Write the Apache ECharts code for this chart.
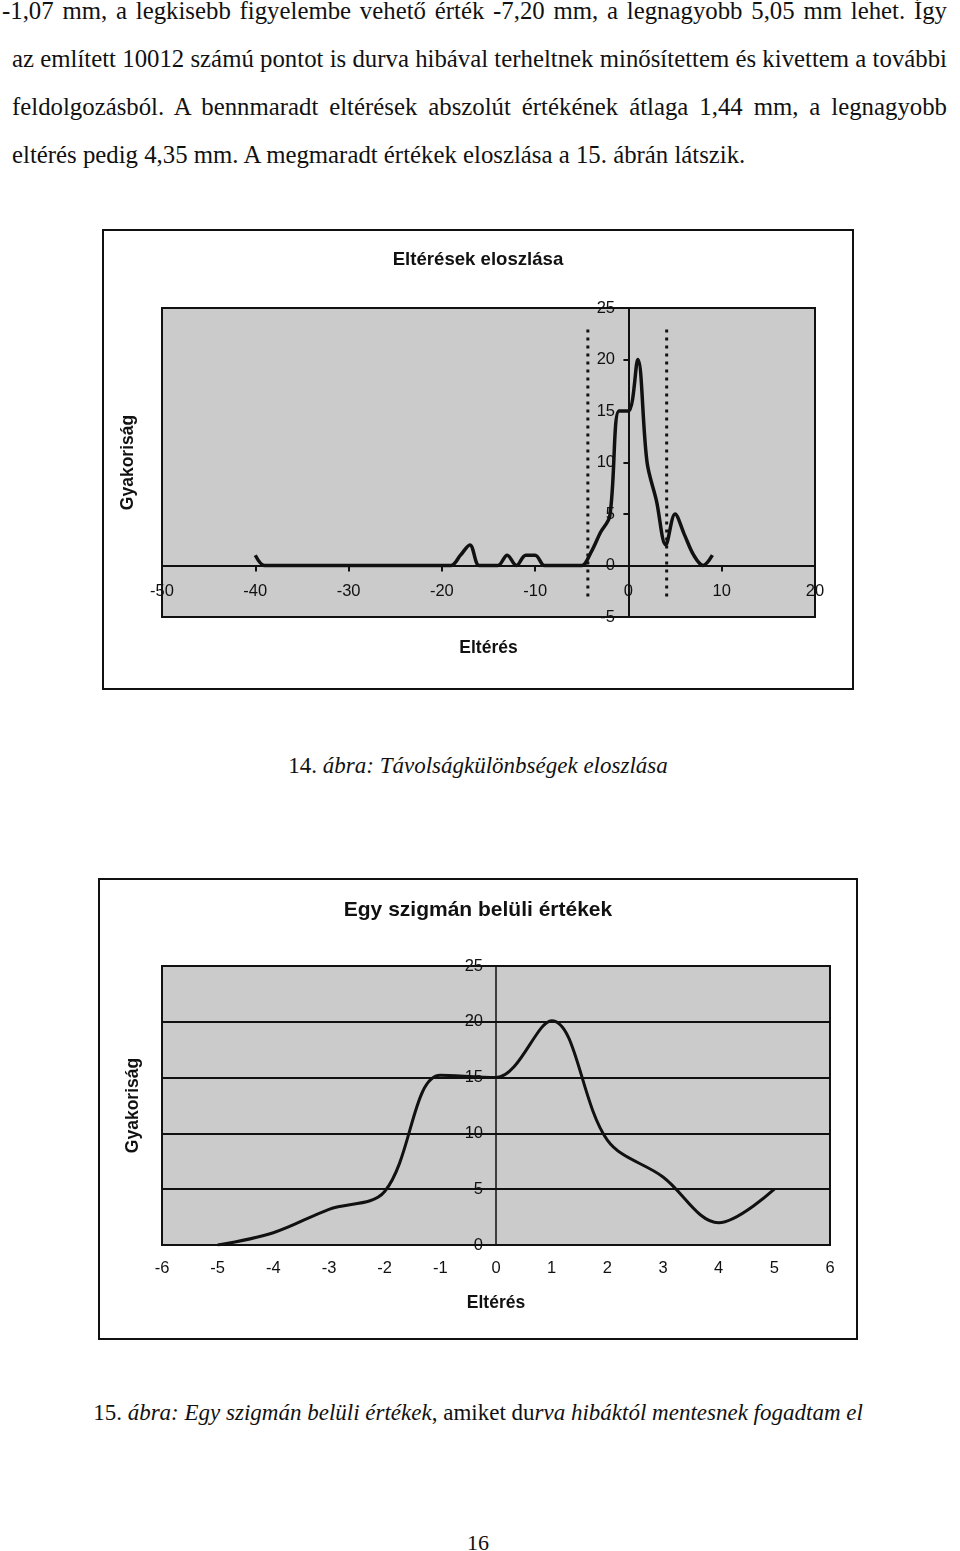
<!DOCTYPE html>
<html><head><meta charset="utf-8">
<script src="https://cdn.jsdelivr.net/npm/echarts@6/dist/echarts.min.js"></script>
<style>
html,body{margin:0;padding:0;background:#fff;}
body{width:960px;height:1551px;position:relative;overflow:hidden;font-family:"Liberation Serif","Times New Roman",serif;color:#111;}
.ln{position:absolute;left:12px;width:935px;font-size:24.8px;line-height:24px;white-space:nowrap;}
.j{text-align:justify;text-align-last:justify;white-space:normal;}
.cap{position:absolute;left:0;width:956px;text-align:center;font-size:23px;line-height:24px;white-space:nowrap;}
#c1{position:absolute;left:102px;top:229px;width:752px;height:461px;}
#c2{position:absolute;left:98px;top:878px;width:760px;height:462px;}
</style></head><body>
<div class="ln j" style="top:-1px;left:2px;width:945px">-1,07 mm, a legkisebb figyelembe vehető érték -7,20 mm, a legnagyobb 5,05 mm lehet. Így</div>
<div class="ln j" style="top:47px">az említett 10012 számú pontot is durva hibával terheltnek minősítettem és kivettem a további</div>
<div class="ln j" style="top:95px">feldolgozásból. A bennmaradt eltérések abszolút értékének átlaga 1,44 mm, a legnagyobb</div>
<div class="ln" style="top:143px">eltérés pedig 4,35 mm. A megmaradt értékek eloszlása a 15. ábrán látszik.</div>
<div id="c1"></div>
<div class="cap" style="top:754px">14. <i>ábra: Távolságkülönbségek eloszlása</i></div>
<div id="c2"></div>
<div class="cap" style="top:1401px">15. <i>ábra: Egy szigmán belüli értékek</i>, amiket du<i>rva hibáktól mentesnek fogadtam el</i></div>
<div class="cap" style="top:1531px;font-size:22px">16</div>
<script>
// ---- Chart 1: Eltérések eloszlása ----
const bins1 = [-40,-39,-38,-37,-36,-35,-34,-33,-32,-31,-30,-29,-28,-27,-26,-25,-24,-23,-22,-21,-20,-19,-18,-17,-16,-15,-14,-13,-12,-11,-10,-9,-8,-7,-6,-5,-4,-3,-2,-1,0,1,2,3,4,5,6,7,8,9];
const freq1 = [1,0,0,0,0,0,0,0,0,0,0,0,0,0,0,0,0,0,0,0,0,0,1,2,0,0,0,1,0,1,1,0,0,0,0,0,1.3,3.2,4.8,15,15,20,10,6.3,2,5,3,1,0,1];
const xTicks1 = [-50,-40,-30,-20,-10,0,10,20];
const yTicks1 = [-5,0,5,10,15,20,25];
const limitX1 = [-4.35, 4.1];
const limitY1 = [-3, 23];

// ---- Chart 2: Egy szigmán belüli értékek ----
const bins2 = [-5,-4,-3,-2,-1,0,1,2,3,4,5];
const freq2 = [0,1.1,3.2,4.8,15.2,15,20.1,9.4,6.1,2,5];
const xTicks2 = [-6,-5,-4,-3,-2,-1,0,1,2,3,4,5,6];
const yTicks2 = [0,5,10,15,20,25];

const INK = '#111';
const SANS = '"Liberation Sans", Arial, sans-serif';
const lbl = (size) => ({fontFamily: SANS, fontSize: size, color: INK});
const nameStyle = {fontFamily: SANS, fontSize: 17.5, fontWeight: 'bold', color: INK};

function frame(w, h) {
  return [{type: 'rect', silent: true, shape: {x: 1, y: 1, width: w - 2, height: h - 2},
           style: {fill: null, stroke: INK, lineWidth: 2}}];
}

const c1 = echarts.init(document.getElementById('c1'));
c1.setOption({
  animation: false,
  title: {text: 'Eltérések eloszlása', left: 'center', top: 16,
          textStyle: {fontFamily: SANS, fontSize: 18.6, fontWeight: 'bold', color: INK}},
  grid: {left: 60, top: 79, width: 653, height: 309, show: true, containLabel: false, outerBoundsMode: 'none',
         backgroundColor: '#cbcbcb', borderColor: INK, borderWidth: 2},
  xAxis: {type: 'value', min: xTicks1[0], max: xTicks1[xTicks1.length - 1], interval: xTicks1[1] - xTicks1[0],
          axisLine: {onZero: true, lineStyle: {color: INK, width: 2}},
          axisTick: {show: true, length: 6, lineStyle: {color: INK, width: 2}},
          axisLabel: Object.assign({inside: true, margin: 17}, lbl(16.5)),
          splitLine: {show: false},
          name: 'Eltérés', nameLocation: 'middle', nameGap: 22, nameTextStyle: nameStyle},
  yAxis: {type: 'value', min: yTicks1[0], max: yTicks1[yTicks1.length - 1], interval: yTicks1[1] - yTicks1[0],
          axisLine: {onZero: true, lineStyle: {color: INK, width: 2}},
          axisTick: {show: true, length: 5, lineStyle: {color: INK, width: 2}},
          axisLabel: Object.assign({inside: true, margin: 453, align: 'right'}, lbl(16.5)),
          splitLine: {show: false},
          name: 'Gyakoriság', nameLocation: 'middle', nameGap: 25, nameTextStyle: nameStyle},
  series: [
    {type: 'line', data: bins1.map((x, i) => [x, freq1[i]]), smooth: 0.35, showSymbol: false,
     lineStyle: {color: INK, width: 3.5}, z: 3},
    ...limitX1.map(x => ({type: 'line', data: [[x, limitY1[0]], [x, limitY1[1]]], showSymbol: false,
      lineStyle: {color: INK, width: 3, type: [3, 5]}, z: 2}))
  ],
  graphic: frame(752, 461)
});

const c2 = echarts.init(document.getElementById('c2'));
c2.setOption({
  animation: false,
  title: {text: 'Egy szigmán belüli értékek', left: 'center', top: 17,
          textStyle: {fontFamily: SANS, fontSize: 21, fontWeight: 'bold', color: INK}},
  grid: {left: 64, top: 88, width: 668, height: 279, show: true, containLabel: false, outerBoundsMode: 'none',
         backgroundColor: '#cbcbcb', borderColor: INK, borderWidth: 2},
  xAxis: {type: 'value', min: xTicks2[0], max: xTicks2[xTicks2.length - 1], interval: xTicks2[1] - xTicks2[0],
          axisLine: {onZero: true, lineStyle: {color: INK, width: 2}},
          axisTick: {show: false},
          axisLabel: Object.assign({margin: 15}, lbl(16.5)),
          splitLine: {show: false},
          name: 'Eltérés', nameLocation: 'middle', nameGap: 49, nameTextStyle: nameStyle},
  yAxis: {type: 'value', min: yTicks2[0], max: yTicks2[yTicks2.length - 1], interval: yTicks2[1] - yTicks2[0],
          axisLine: {onZero: true, lineStyle: {color: INK, width: 1.5}},
          axisTick: {show: false},
          axisLabel: Object.assign({inside: true, margin: 321, align: 'right'}, lbl(16.5)),
          splitLine: {show: true, lineStyle: {color: INK, width: 2}},
          name: 'Gyakoriság', nameLocation: 'middle', nameGap: 20, nameTextStyle: nameStyle},
  series: [
    {type: 'line', data: bins2.map((x, i) => [x, freq2[i]]), smooth: 0.35, showSymbol: false,
     lineStyle: {color: INK, width: 3}, z: 3}
  ],
  graphic: frame(760, 462)
});
</script>
</body></html>
